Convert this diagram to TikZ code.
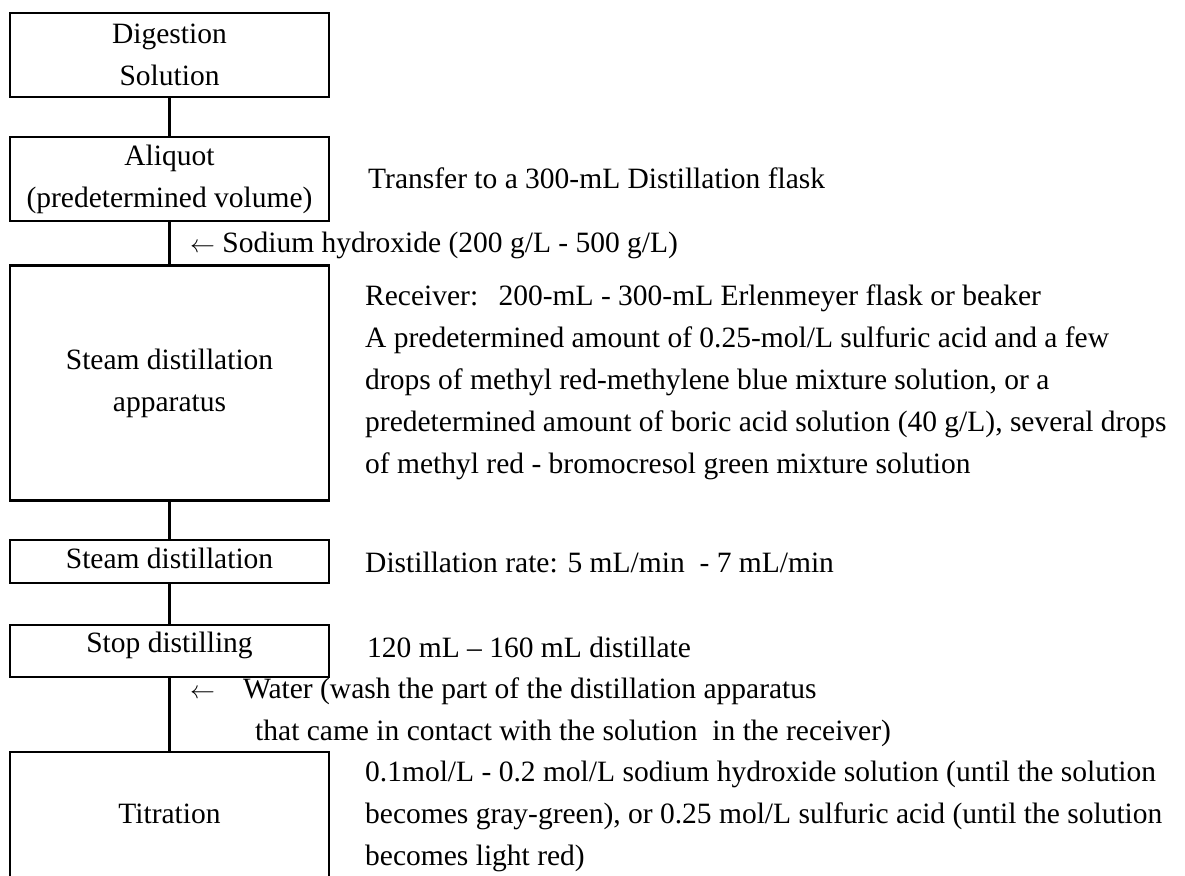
\documentclass[tikz,border=0pt]{standalone}
\usepackage{fontspec}
\setmainfont{Liberation Serif}
\begin{document}
\begin{tikzpicture}[x=1pt,y=-1pt,
  txt/.style={font=\fontsize{29.5}{42}\selectfont},
  box/.style={txt, draw, line width=2.5pt, minimum width=319pt, inner sep=0pt, align=center},
  note/.style={txt, anchor=base west, inner sep=0pt, align=left},
  link/.style={line width=2.5pt}]
\useasboundingbox (0,0) rectangle (1185,875);
\clip (0,0) rectangle (1185,875);
% boxes
\node[box, minimum height=84pt] (b1) at (169.5,55) {Digestion\\Solution};
\node[box, minimum height=84pt] (b2) at (169.5,179) {Aliquot\\(predetermined volume)};
\node[box, minimum height=235pt] (b3) at (169.5,383) {Steam distillation\\apparatus};
\node[box, minimum height=43pt, text height=19pt, text depth=6pt] (b4) at (169.5,561.5) {Steam distillation};
\node[box, minimum height=52pt, text height=16pt, text depth=14pt] (b5) at (169.5,651) {Stop distilling};
\node[box, minimum height=128pt, text height=19pt, text depth=5pt] (b6) at (169.5,816) {Titration};
% connectors
\draw[link] (b1.south) -- (b2.north);
\draw[link] (b2.south) -- (b3.north);
\draw[link] (b3.south) -- (b4.north);
\draw[link] (b4.south) -- (b5.north);
\draw[link] (b5.south) -- (b6.north);
% notes
\node[note] (n1) at (368,188) {Transfer to a 300-mL Distillation flask};
\node[note] (n2) at (190,252) {$\leftarrow$ Sodium hydroxide (200 g/L - 500 g/L)};
\node[note] (n3) at (365,473) {Receiver:\hspace*{13pt} 200-mL - 300-mL Erlenmeyer flask or beaker\\
A predetermined amount of 0.25-mol/L sulfuric acid and a few\\
drops of methyl red-methylene blue mixture solution, or a\\
predetermined amount of boric acid solution (40 g/L), several drops\\
of methyl red - bromocresol green mixture solution};
\node[note] (n4) at (365,572) {Distillation rate: 5 mL/min\ \ - 7 mL/min};
\node[note] (n5) at (367,657) {120 mL – 160 mL distillate};
\node[note] (n6) at (190,698) {$\leftarrow$\hspace*{28pt}Water (wash the part of the distillation apparatus};
\node[note] (n7) at (255,740) {that came in contact with the solution\ \ in the receiver)};
\node[note] (n8) at (365,865) {0.1mol/L - 0.2 mol/L sodium hydroxide solution (until the solution\\
becomes gray-green), or 0.25 mol/L sulfuric acid (until the solution\\
becomes light red)};
\end{tikzpicture}
\end{document}
